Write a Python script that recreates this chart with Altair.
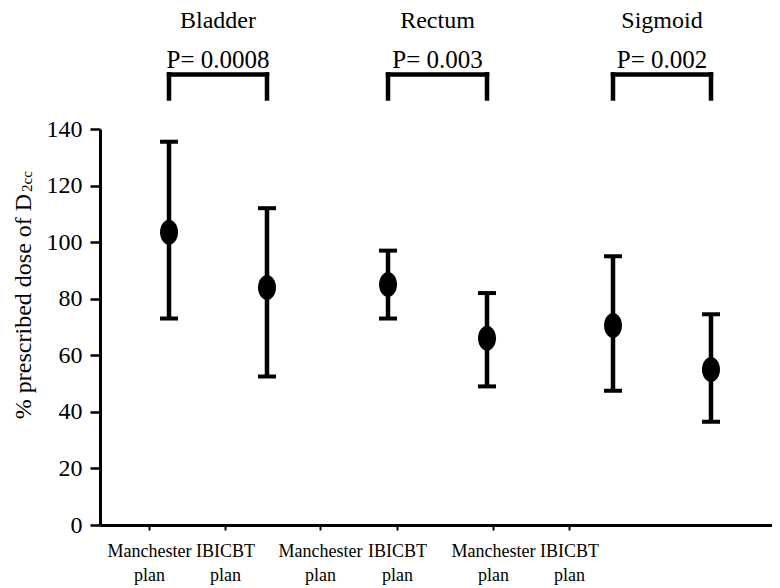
import altair as alt
import pandas as pd

# ---- data ----
organs = ["Bladder", "Rectum", "Sigmoid"]
p_values = ["P= 0.0008", "P= 0.003", "P= 0.002"]
plan_names = ["Manchester", "IBICBT", "Manchester", "IBICBT", "Manchester", "IBICBT"]
organ_of = ["Bladder", "Bladder", "Rectum", "Rectum", "Sigmoid", "Sigmoid"]
means = [103.5, 84.0, 85.0, 66.0, 70.5, 55.0]
uppers = [135.5, 112.0, 97.0, 82.0, 95.0, 74.5]
lowers = [73.0, 52.5, 73.0, 49.0, 47.5, 36.5]
# positions along the (uncalibrated) x axis of the original figure, 0..100
point_x = [10.27, 24.85, 42.86, 57.59, 76.34, 90.92]
tick_x = [7.29, 18.6, 32.74, 44.2, 58.48, 69.79]
tick_labels = [["Manchester", "plan"], ["IBICBT", "plan"],
               ["Manchester", "plan"], ["IBICBT", "plan"],
               ["Manchester", "plan"], ["IBICBT", "plan"]]

FONT = "Times New Roman, Liberation Serif, DejaVu Serif, serif"
W, H = 672, 396

df = pd.DataFrame({"organ": organ_of, "plan": plan_names, "x": point_x,
                   "mean": means, "upper": uppers, "lower": lowers})

grp = pd.DataFrame({
    "organ": organs,
    "p": p_values,
    "xl": point_x[0::2],
    "xr": point_x[1::2],
})
grp["xc"] = (grp["xl"] + grp["xr"]) / 2

xscale = alt.Scale(domain=[0, 100], nice=False, zero=False)
yscale = alt.Scale(domain=[0, 140], nice=False)

label_expr = "{}[indexof({}, datum.value)]".format(
    str(tick_labels).replace('"', "'"), str(tick_x))

xaxis = alt.Axis(values=tick_x, labelExpr=label_expr, title=None, grid=False,
                 domainColor="black", domainWidth=3, tickColor="black",
                 tickWidth=2, tickSize=5, labelFont=FONT, labelFontSize=18,
                 labelColor="black", labelLineHeight=24, labelPadding=12,
                 labelAngle=0, labelOverlap=False)
yaxis = alt.Axis(values=[0, 20, 40, 60, 80, 100, 120, 140], title=None,
                 grid=False, domainColor="black", domainWidth=3,
                 tickColor="black", tickWidth=2.5, tickSize=10,
                 labelFont=FONT, labelFontSize=24, labelColor="black",
                 labelPadding=8)

base = alt.Chart(df)

bars = base.mark_rule(color="black", strokeWidth=4.5).encode(
    x=alt.X("x:Q", scale=xscale, axis=xaxis),
    y=alt.Y("lower:Q", scale=yscale, axis=yaxis),
    y2="upper:Q",
)
cap_hi = base.mark_tick(color="black", orient="horizontal", size=18,
                        thickness=4, opacity=1).encode(x="x:Q", y="upper:Q")
cap_lo = base.mark_tick(color="black", orient="horizontal", size=18,
                        thickness=4, opacity=1).encode(x="x:Q", y="lower:Q")

ellipse = "M0,-1 A0.72,1 0 1,1 0,1 A0.72,1 0 1,1 0,-1 Z"
pts = base.mark_point(shape=ellipse, size=625, filled=True, color="black",
                      opacity=1, strokeWidth=0).encode(x="x:Q", y="mean:Q")

BR_TOP, BR_BOT = 159.3, 150.8
gbase = alt.Chart(grp)
br_h = gbase.mark_rule(color="black", strokeWidth=4.5, strokeCap="square").encode(
    x="xl:Q", x2="xr:Q", y=alt.datum(BR_TOP))
br_l = gbase.mark_rule(color="black", strokeWidth=4.5, strokeCap="square").encode(
    x="xl:Q", y=alt.datum(BR_TOP), y2=alt.datum(BR_BOT))
br_r = gbase.mark_rule(color="black", strokeWidth=4.5, strokeCap="square").encode(
    x="xr:Q", y=alt.datum(BR_TOP), y2=alt.datum(BR_BOT))

t_org = gbase.mark_text(font=FONT, fontSize=24, color="black",
                        baseline="alphabetic", align="center").encode(
    x="xc:Q", y=alt.datum(175.6), text="organ:N")
t_p = gbase.mark_text(font=FONT, fontSize=25, color="black",
                      baseline="alphabetic", align="center").encode(
    x="xc:Q", y=alt.datum(161.5), text="p:N")

ytitle_df = pd.DataFrame({"main": ["% prescribed dose of D"], "sub": ["2cc"]})
yt_main = alt.Chart(ytitle_df).mark_text(
    font=FONT, fontSize=24, color="black", angle=270, align="center",
    baseline="alphabetic").encode(x=alt.value(-69), y=alt.value(177.5),
                                  text="main:N")
yt_sub = alt.Chart(ytitle_df).mark_text(
    font=FONT, fontSize=15, color="black", angle=270, align="left",
    baseline="alphabetic").encode(x=alt.value(-68), y=alt.value(63),
                                  text="sub:N")

chart = alt.layer(bars, cap_hi, cap_lo, pts, br_h, br_l, br_r, t_org, t_p,
                  yt_main, yt_sub).properties(
    width=W, height=H,
    autosize=alt.AutoSizeParams(type="none"),
    padding={"left": 92, "top": 121, "right": 0, "bottom": 63},
    background="white",
).configure_view(stroke=None).configure_axis(
    labelFont=FONT, labelColor="black"
).configure_text(font=FONT)

chart.save("out.html", embed_options={"renderer": "svg", "actions": False})
